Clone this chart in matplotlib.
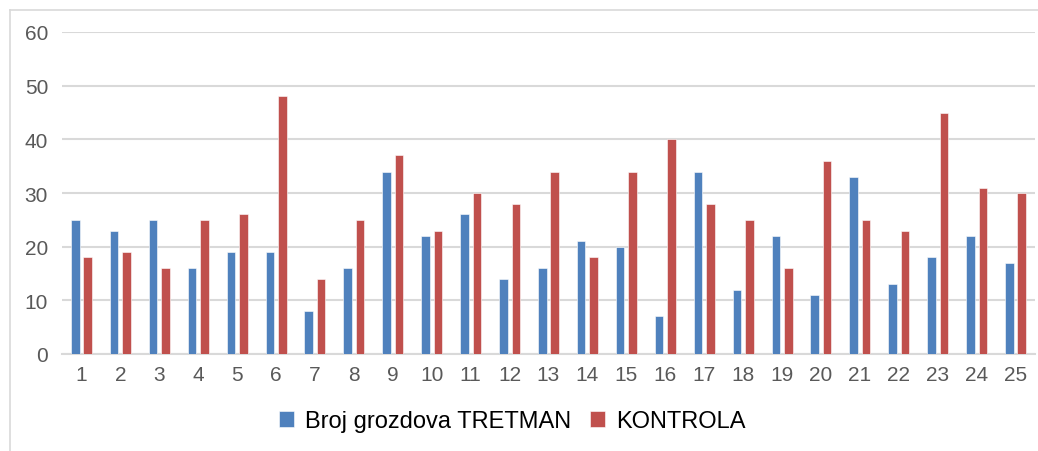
import numpy as np
import matplotlib.pyplot as plt
from matplotlib.lines import Line2D

plt.rcParams["font.family"] = ["Liberation Sans", "DejaVu Sans"]

# ---- data ----
categories = [str(i) for i in range(1, 26)]
tretman  = [25, 23, 25, 16, 19, 19, 8, 16, 34, 22, 26, 14, 16,
            21, 20, 7, 34, 12, 22, 11, 33, 13, 18, 22, 17]
kontrola = [18, 19, 16, 25, 26, 48, 14, 25, 37, 23, 30, 28, 34,
            18, 34, 40, 28, 25, 16, 36, 25, 23, 45, 31, 30]
series_names = ["Broj grozdova TRETMAN", "KONTROLA"]
yticks = [0, 10, 20, 30, 40, 50, 60]

BLUE, RED = "#4F81BD", "#C0504D"
GRID = "#D9D9D9"
TICK = "#595959"

W, H = 1038, 452
fig = plt.figure(figsize=(W / 100, H / 100), dpi=100)
ax = fig.add_axes([62 / W, (H - 355) / H, (1035 - 62) / W, (355 - 33) / H])

x = np.arange(len(categories))
bw, off = 0.22, 0.16
ax.bar(x - off, tretman, bw, color=BLUE, edgecolor="white", linewidth=0.4,
       label=series_names[0], zorder=3)
ax.bar(x + off, kontrola, bw, color=RED, edgecolor="white", linewidth=0.4,
       label=series_names[1], zorder=3)

ax.set_xlim(-0.5, len(categories) - 0.5)
ax.set_ylim(0, 60)
ax.set_yticks(yticks)
ax.set_xticks(x, categories)
ax.yaxis.grid(True, color=GRID, linewidth=1.5, zorder=0)
ax.set_axisbelow(True)
for s in ("top", "right", "left"):
    ax.spines[s].set_visible(False)
ax.spines["bottom"].set_color(GRID)
ax.spines["bottom"].set_linewidth(1.5)
ax.tick_params(axis="both", length=0, labelsize=15, labelcolor=TICK)
ax.tick_params(axis="y", pad=10)
ax.tick_params(axis="x", pad=8)

leg = fig.legend(loc="center", bbox_to_anchor=(512 / W, (H - 422) / H), ncol=2,
                 frameon=False, fontsize=17, handlelength=0.65, handleheight=0.65,
                 handletextpad=0.45, columnspacing=0.8)

# light chart-area border (left and top visible in the reference)
fig.add_artist(Line2D([10 / W, 10 / W], [0, (H - 11) / H], color=GRID, lw=1.2))
fig.add_artist(Line2D([10 / W, 1], [(H - 11) / H, (H - 11) / H], color=GRID, lw=1.2))

fig.savefig("out.png", dpi=100)
